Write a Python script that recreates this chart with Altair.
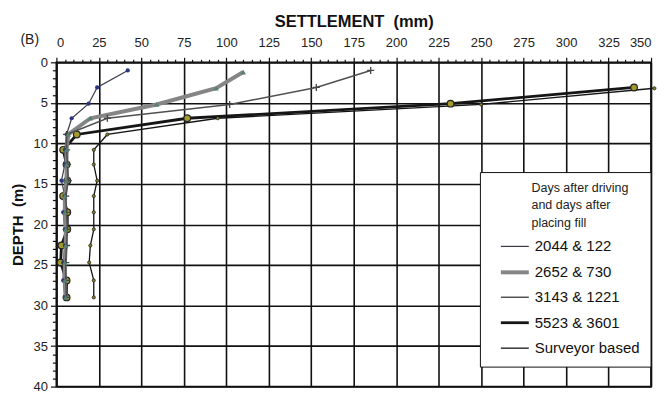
import altair as alt
import pandas as pd

names = ["2044 & 122", "2652 & 730", "3143 & 1221", "5523 & 3601", "Surveyor based"]

lower_depth = [10.8, 12.6, 14.6, 16.5, 18.5, 20.6, 22.6, 24.7, 26.9, 29.0]

s1_depth = [1.0, 3.1, 5.1, 6.9, 8.9] + lower_depth
s1_mm = [42, 24, 19, 9, 6, 5, 5, 3, 5, 4, 5, 5, 4, 4, 5]

s2_depth = [1.2, 3.2, 5.2, 6.9, 8.9] + lower_depth
s2_mm = [110, 94, 59, 20, 7, 6, 6, 6, 5, 5, 5.5, 5.5, 5, 5, 5.5]

s3_depth = [1.0, 3.1, 5.2, 6.9, 8.9] + lower_depth
s3_mm = [185, 153, 102, 30, 6, 6, 6.5, 7, 5.5, 6, 6.5, 6, 5.5, 5.5, 6]

s4_depth = [3.1, 5.1, 6.9, 8.9] + lower_depth
s4_mm = [340, 232, 77, 12, 4, 6, 6.4, 4, 6.4, 6.4, 3, 2.5, 6, 6]

s5_depth = [3.2, 5.2, 6.9, 8.9] + lower_depth
s5_mm = [352, 250, 95, 30, 22, 22, 24, 22, 22, 22, 20, 19.3, 22, 22]

line_colors = ["#3a3a48", "#858585", "#505050", "#151515", "#151515"]
line_widths = [1.2, 4, 1.5, 2.8, 1.3]

rows = []
for nm, ds, ms in zip(names, [s1_depth, s2_depth, s3_depth, s4_depth, s5_depth],
                      [s1_mm, s2_mm, s3_mm, s4_mm, s5_mm]):
    for d, m in zip(ds, ms):
        rows.append({"series": nm, "depth": d, "mm": m})
df = pd.DataFrame(rows)

FONT = "Liberation Sans"

x_vals = list(range(0, 355, 5))
y_vals = list(range(0, 41, 1))

xaxis = alt.Axis(
    orient="top", title="SETTLEMENT\u00a0\u00a0(mm)", values=x_vals,
    labelExpr="datum.value % 25 === 0 ? datum.label : ''",
    labelOverlap=False, labelFontSize=13, labelColor="#222", labelPadding=8,
    titleFontSize=16.5, titleFontWeight="bold", titleColor="#111", titlePadding=7,
    tickSize={"condition": {"test": "datum.value % 25 === 0", "value": 5}, "value": 3},
    tickColor="#111", tickWidth=1.2,
    grid=True, gridColor="#111", gridWidth=1.6,
    gridOpacity={"condition": {"test": "datum.value % 25 === 0", "value": 1}, "value": 0},
    domainColor="#111", domainWidth=1.6,
)
yaxis = alt.Axis(
    orient="left", title="DEPTH\u00a0\u00a0(m)", values=y_vals,
    labelExpr="datum.value % 5 === 0 ? datum.label : ''",
    labelOverlap=False, labelFontSize=13, labelColor="#222", labelPadding=3,
    titleFontSize=15, titleFontWeight="bold", titleColor="#111", titlePadding=8,
    tickSize={"condition": {"test": "datum.value % 5 === 0", "value": 6}, "value": 4},
    tickColor="#111", tickWidth=1.2,
    grid=True, gridColor="#111", gridWidth=1.6,
    gridOpacity={"condition": {"test": "datum.value % 5 === 0", "value": 1}, "value": 0},
    domainColor="#111", domainWidth=1.6,
)

nb = "\u200b" + "\u00a0" * 12
legend = alt.Legend(
    orient="none", legendX=424.5, legendY=110,
    title=[nb + "Days after driving", nb + "and days after", nb + "placing fill"],
    titleFontSize=12.5, titleFontWeight="normal", titleColor="#222",
    titleLineHeight=17.5, titlePadding=2, titleLimit=400,
    labelFontSize=15, labelColor="#111", labelLimit=300, labelOffset=4,
    symbolType="stroke", symbolSize=784, symbolOffset=9,
    rowPadding=2, padding=10,
    strokeColor="#111", fillColor="white",
)

xs = alt.Scale(domain=[0, 350], nice=False, zero=False)
ys = alt.Scale(domain=[0, 40], reverse=True, nice=False, zero=False)

base = alt.Chart(df)


def line_layer(subset):
    return base.transform_filter(
        alt.FieldOneOfPredicate(field="series", oneOf=subset)
    ).mark_line().encode(
        x=alt.X("mm:Q", scale=xs, axis=xaxis),
        y=alt.Y("depth:Q", scale=ys, axis=yaxis),
        color=alt.Color("series:N", scale=alt.Scale(domain=names, range=line_colors), legend=legend),
        strokeWidth=alt.StrokeWidth("series:N",
                                    scale=alt.Scale(type="ordinal", domain=names, range=line_widths),
                                    legend=legend),
        order=alt.Order("depth:Q"),
    )


def pts(name, **kw):
    return base.transform_filter(alt.datum.series == name).mark_point(**kw).encode(
        x=alt.X("mm:Q", scale=xs, axis=xaxis),
        y=alt.Y("depth:Q", scale=ys, axis=yaxis),
    )


lines_back = line_layer([names[4], names[3]])
lines_front = line_layer([names[0], names[2], names[1]])

p1 = pts(names[0], shape="circle", filled=True, color="#2b3580", size=18, opacity=1)
p2 = pts(names[1], shape="triangle-up", filled=True, color="#55806f", size=30, opacity=1)
p3 = pts(names[2], shape="M-1,0L1,0M0,-1L0,1", filled=False, color="#444", size=50, strokeWidth=1.3, opacity=1)
p4 = pts(names[3], shape="circle", filled=True, fill="#a39a2c", stroke="#222", strokeWidth=1.2, size=45, opacity=1)
p5 = pts(names[4], shape="circle", filled=True, fill="#8c8222", stroke="#222", strokeWidth=0.8, size=10, opacity=1)

chart = alt.layer(lines_back, p5, p4, lines_front, p1, p3, p2).properties(
    width=596, height=325,
    title=alt.TitleParams("(B)", anchor="start", frame="group", dx=-36, dy=34,
                          fontSize=14, fontWeight="normal", color="#222", offset=0),
    autosize=alt.AutoSizeParams(type="none"),
    padding={"left": 48.5, "top": 54, "right": 10, "bottom": 6},
).configure(font=FONT).configure_view(stroke="#111", strokeWidth=1.8)

chart.save("out.html", embed_options={"renderer": "svg", "actions": False})
